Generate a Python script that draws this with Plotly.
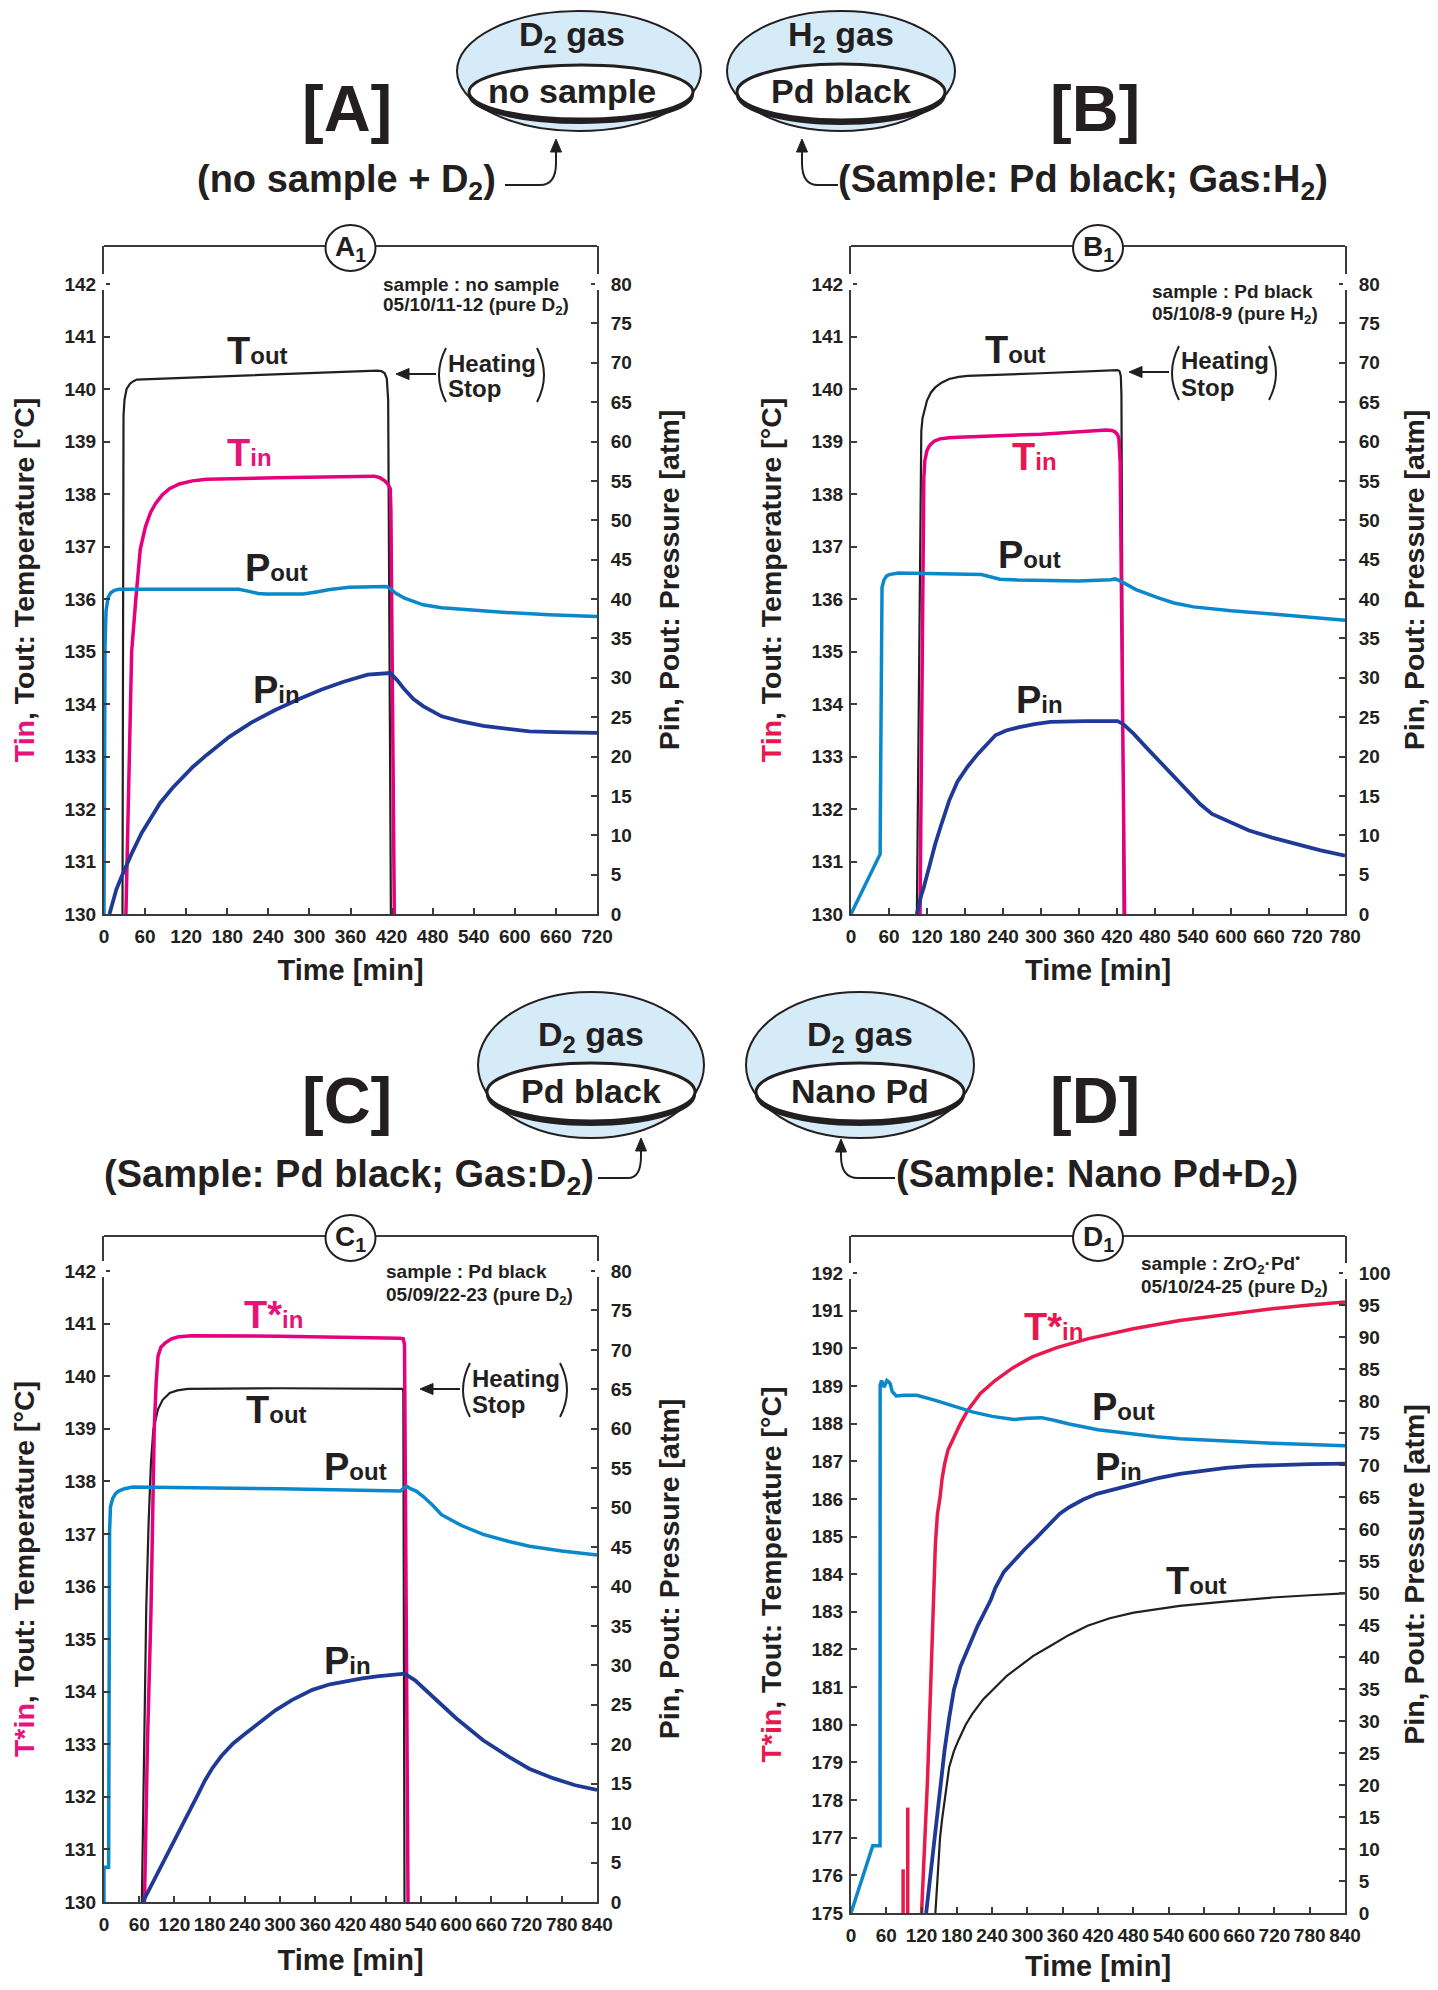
import plotly.graph_objects as go

# page body has an 8px margin, so the figure is drawn 8px in from each edge
PAGE_W, PAGE_H = 1438, 1990
OFF = 8
W, H = PAGE_W - 2 * OFF, PAGE_H - 2 * OFF
FONT = "Liberation Sans, Arial, Helvetica, sans-serif"
INK = "#231f20"
AXC = "#3a3a3a"
MAG = "#e6007e"
CRIM = "#e8194b"
LBLUE = "#0a88cc"
DBLUE = "#1f3a96"
LBL_MAG = "#e5137a"
LBL_RED = "#e8184f"
BUBBLE = "#d5ebf8"

# ---------------- DATA ----------------
# Panel A (no sample + D2), time in min
A_tout_t = [27, 27.5, 28.5, 30, 33, 38, 43, 48, 150, 300, 399, 405, 410, 413, 415, 419]
A_tout_v = [130, 137.5, 139.5, 139.8, 140.0, 140.1, 140.15, 140.18, 140.23, 140.3, 140.35, 140.34, 140.3, 140.2, 139.8, 130]
A_tin_t = [32, 36, 40.4, 46.5, 53, 60.6, 68, 75.4, 85, 95.6, 110, 129, 150, 250, 385, 395, 403, 410, 415, 418, 419, 424]
A_tin_v = [130, 132.8, 135, 136, 136.95, 137.38, 137.65, 137.82, 137.98, 138.1, 138.19, 138.25, 138.28, 138.31, 138.34, 138.34, 138.31, 138.25, 138.18, 138.1, 137.7, 130]
A_pout_t = [0, 0.5, 1.5, 3, 6, 10, 15, 22, 100, 197, 210, 225, 237, 291, 310, 330, 358, 390, 412, 418, 425, 439, 466, 493, 520, 587, 650, 720]
A_pout_v = [0, 20, 34, 38.5, 40.2, 40.8, 41.1, 41.24, 41.24, 41.24, 41.0, 40.7, 40.65, 40.65, 40.9, 41.2, 41.49, 41.55, 41.58, 41.3, 40.8, 40.1, 39.26, 38.9, 38.71, 38.29, 38.0, 37.78]
A_pin_t = [8, 12, 18, 25, 31.7, 40, 55, 70, 82, 100, 116, 130, 150, 170, 183, 215, 250, 285, 318, 350, 385, 418, 428, 439, 452, 466, 480, 493, 520, 554, 590, 621, 660, 720]
A_pin_v = [0, 1.3, 3.1, 4.6, 6.0, 7.6, 10.3, 12.3, 14.1, 16.0, 17.5, 18.7, 20.2, 21.6, 22.5, 24.3, 25.9, 27.3, 28.5, 29.5, 30.4, 30.6, 29.7, 28.5, 27.3, 26.4, 25.7, 25.1, 24.5, 23.9, 23.5, 23.2, 23.1, 23.0]

# Panel B (Pd black + H2)
B_tout_t = [104, 108, 111, 113, 116, 120, 126, 133, 143, 155, 170, 184, 300, 421, 424, 426, 427, 430.5]
B_tout_v = [130, 136, 139.2, 139.45, 139.62, 139.78, 139.93, 140.03, 140.12, 140.19, 140.23, 140.25, 140.3, 140.36, 140.34, 140.25, 139.9, 130]
B_tin_t = [109, 113, 115, 116.5, 118, 120, 123, 126, 132, 140.6, 155, 170, 300, 403, 412, 417, 421, 423, 425, 432]
B_tin_v = [130, 136, 138.3, 138.63, 138.75, 138.83, 138.9, 138.95, 139.01, 139.05, 139.07, 139.08, 139.14, 139.22, 139.21, 139.18, 139.13, 139.05, 138.6, 130]
B_pout_t = [0, 46, 47, 47.8, 49, 52, 56, 60.4, 75, 206, 220, 235, 264, 359, 410, 417, 425, 432, 450, 483, 510, 541, 600, 665, 780]
B_pout_v = [0, 7.6, 20, 35, 41.5, 42.4, 42.9, 43.1, 43.3, 43.1, 42.8, 42.5, 42.4, 42.3, 42.45, 42.55, 42.3, 42.0, 41.2, 40.2, 39.5, 39.0, 38.5, 38.1, 37.3]
B_pin_t = [104, 107, 111, 115, 120, 126, 133, 142, 155, 168, 184, 200, 215, 228, 245, 264, 290, 315, 370, 421, 430, 446, 468, 490, 512, 534, 552, 570, 600, 628.5, 665, 701, 740, 780]
B_pin_v = [0, 1.2, 2.4, 3.4, 5.0, 7.0, 8.9, 11.2, 14.4, 16.8, 18.7, 20.3, 21.6, 22.7, 23.3, 23.7, 24.1, 24.4, 24.5, 24.5, 24.1, 22.9, 21.0, 19.1, 17.2, 15.3, 13.9, 12.7, 11.6, 10.6, 9.7, 8.9, 8.1, 7.4]

# Panel C (Pd black + D2)
C_tin_t = [69, 74, 80, 85.6, 89, 92, 97, 104, 115, 127, 150, 174, 300, 504, 510, 512, 518]
C_tin_v = [130, 133, 135.5, 139, 139.9, 140.38, 140.55, 140.63, 140.71, 140.75, 140.77, 140.77, 140.76, 140.72, 140.71, 140.6, 130]
C_tout_t = [64.5, 68, 72, 76, 80, 84, 88, 92, 100, 112, 125, 143, 300, 504, 509, 510, 512]
C_tout_v = [130, 132.5, 135.6, 137.2, 138.35, 138.98, 139.2, 139.37, 139.55, 139.68, 139.73, 139.76, 139.77, 139.77, 139.76, 139.7, 130]
C_pout_t = [0, 0.01, 7.9, 8, 8.6, 9.5, 11, 15, 20, 25, 35, 49, 300, 497, 505, 511, 516, 522, 532, 544, 560, 575, 610, 646, 690, 725, 780, 840]
C_pout_v = [0, 4.4, 4.4, 20, 40, 47, 50.1, 51.2, 51.8, 52.1, 52.4, 52.6, 52.4, 52.1, 52.1, 52.5, 52.7, 52.4, 52.1, 51.4, 50.3, 49.1, 47.7, 46.6, 45.7, 45.1, 44.5, 44.0]
C_pin_t = [66, 80, 100, 119.4, 140, 160, 172, 184, 200, 220, 240, 265, 292, 320, 355, 385, 418, 440, 465, 490, 512, 530, 567, 600, 646, 690, 724.5, 765, 803, 840]
C_pin_v = [0, 2.0, 4.9, 7.6, 10.6, 13.6, 15.4, 16.9, 18.5, 20.1, 21.3, 22.7, 24.3, 25.6, 26.9, 27.6, 28.1, 28.35, 28.6, 28.8, 28.95, 28.1, 25.6, 23.3, 20.5, 18.4, 16.9, 15.7, 14.8, 14.2]

# Panel D (Nano Pd + D2)
D_tin_t = [120, 125, 130, 135, 139.6, 143.5, 147, 151.4, 155, 159.2, 165, 175, 186, 198.4, 220, 245.5, 275, 308.2, 350, 402.3, 480, 559, 640, 716, 780, 840]
D_tin_v = [175, 176.6, 178.5, 180.8, 183.29, 184.8, 185.6, 186.04, 186.55, 186.93, 187.3, 187.64, 188.0, 188.35, 188.8, 189.15, 189.48, 189.77, 190.02, 190.25, 190.52, 190.74, 190.9, 191.05, 191.15, 191.23]
D_spike_t = [88.6, 96.5]
D_spike_v = [176.16, 177.8]
D_tout_t = [143.5, 147, 151.4, 155, 159.2, 163, 167, 175, 182.7, 195, 206.3, 225, 245.5, 265, 284.7, 310, 339.6, 370, 402.3, 440, 480.8, 520, 559, 640, 716, 780, 840]
D_tout_v = [175, 176.0, 177.0, 177.5, 178.0, 178.5, 178.88, 179.3, 179.59, 180.0, 180.29, 180.68, 181.0, 181.3, 181.53, 181.83, 182.1, 182.38, 182.63, 182.83, 182.98, 183.08, 183.16, 183.28, 183.38, 183.44, 183.49]
D_pin_t = [127.8, 132, 136, 143.5, 151, 159.2, 167, 175, 186, 198.4, 215, 237.6, 245.5, 260, 276.9, 295, 316, 330, 339.6, 355, 371, 395, 418, 450, 480.8, 520, 559, 600, 637.6, 680, 716, 780, 840]
D_pin_v = [0, 3.5, 7, 12.5, 19.5, 25.5, 30.5, 34.9, 38.5, 41.2, 44.8, 48.9, 50.8, 53.3, 55.06, 56.8, 58.7, 60.0, 60.8, 62.4, 63.4, 64.6, 65.5, 66.3, 67.05, 67.9, 68.6, 69.1, 69.55, 69.85, 70.0, 70.15, 70.2]
D_pout_t = [0, 36, 37, 49.4, 49.6, 52, 55.7, 58, 61, 64, 66.7, 70, 76.9, 90, 112, 143.5, 175, 206.3, 240, 276.9, 300, 324, 345, 371, 420, 480.8, 520, 559, 640, 716, 780, 840]
D_pout_v = [0, 10.5, 10.5, 10.5, 82.5, 83.2, 82.2, 82.5, 83.2, 83.0, 82.7, 81.5, 80.8, 80.9, 80.9, 80.1, 79.2, 78.3, 77.6, 77.1, 77.3, 77.4, 77.0, 76.4, 75.5, 74.8, 74.4, 74.1, 73.7, 73.4, 73.2, 73.0]

# Axis tick values
TEMP_TICKS_ABC = list(range(130, 143))
TEMP_TICKS_D = list(range(175, 193))
PRES_TICKS_ABC = list(range(0, 81, 5))
PRES_TICKS_D = list(range(0, 101, 5))


def PX(x):
    return (x - OFF) / W


def PY(y):
    return 1 - (y - OFF) / H


panels = [
    dict(x0=104, x1=597, yf=246, yt=284, yb=914, tmin=130, tmax=142, pmax=80, xmax=720,
         tt=TEMP_TICKS_ABC, pt=PRES_TICKS_ABC, lab="A", tin_name="Tin", tin_col=LBL_MAG, rst=28, xst=14,
         series=[(A_tout_t, A_tout_v, 'T', INK, 2.2), (A_tin_t, A_tin_v, 'T', MAG, 3.5),
                 (A_pout_t, A_pout_v, 'P', LBLUE, 3.5), (A_pin_t, A_pin_v, 'P', DBLUE, 3.8)]),
    dict(x0=851, x1=1345, yf=246, yt=284, yb=914, tmin=130, tmax=142, pmax=80, xmax=780,
         tt=TEMP_TICKS_ABC, pt=PRES_TICKS_ABC, lab="B", tin_name="Tin", tin_col=LBL_RED, rst=30, xst=14,
         series=[(B_tout_t, B_tout_v, 'T', INK, 2.2), (B_tin_t, B_tin_v, 'T', MAG, 3.5),
                 (B_pout_t, B_pout_v, 'P', LBLUE, 3.5), (B_pin_t, B_pin_v, 'P', DBLUE, 3.8)]),
    dict(x0=104, x1=597, yf=1236, yt=1271, yb=1902, tmin=130, tmax=142, pmax=80, xmax=840,
         tt=TEMP_TICKS_ABC, pt=PRES_TICKS_ABC, lab="C", tin_name="T*in", tin_col=LBL_MAG, rst=28, xst=16,
         series=[(C_tout_t, C_tout_v, 'T', INK, 2.2), (C_tin_t, C_tin_v, 'T', MAG, 3.5),
                 (C_pout_t, C_pout_v, 'P', LBLUE, 3.5), (C_pin_t, C_pin_v, 'P', DBLUE, 3.8)]),
    dict(x0=851, x1=1345, yf=1236, yt=1273, yb=1913, tmin=175, tmax=192, pmax=100, xmax=840,
         tt=TEMP_TICKS_D, pt=PRES_TICKS_D, lab="D", tin_name="T*in", tin_col=LBL_RED, rst=21, xst=21,
         series=[(D_tout_t, D_tout_v, 'T', INK, 2.2), (D_tin_t, D_tin_v, 'T', CRIM, 3.5),
                 (D_pout_t, D_pout_v, 'P', LBLUE, 3.5), (D_pin_t, D_pin_v, 'P', DBLUE, 3.8)]),
]

fig = go.Figure()
shapes = []
annots = []

tickfont = dict(family=FONT, size=19, color=INK, weight="bold")
TITLE_SZ = 28.5

for i, p in enumerate(panels):
    xid = 'x' if i == 0 else f'x{i + 1}'
    xl = 'xaxis' if i == 0 else f'xaxis{i + 1}'
    ylid = 'y' if i == 0 else f'y{2 * i + 1}'
    yllay = 'yaxis' if i == 0 else f'yaxis{2 * i + 1}'
    yrid = f'y{2 * i + 2}'
    yrlay = f'yaxis{2 * i + 2}'

    pxper = (p['yb'] - p['yt'])
    ttop = p['tmax'] + (p['yt'] - p['yf']) * (p['tmax'] - p['tmin']) / pxper
    ptop = p['pmax'] + (p['yt'] - p['yf']) * p['pmax'] / pxper
    dom_x = [PX(p['x0']), PX(p['x1'])]
    dom_y = [PY(p['yb']), PY(p['yf'])]

    fig.layout[xl] = dict(domain=dom_x, range=[0, p['xmax']], anchor=ylid, automargin=False,
                          tickvals=list(range(0, p['xmax'] + 1, 60)),
                          ticks='inside', ticklen=6, tickwidth=1.5, tickcolor=AXC,
                          showline=True, linecolor=AXC, linewidth=2, showgrid=False,
                          zeroline=False, tickfont=tickfont, ticklabelstandoff=4,
                          title=dict(text='Time [min]', standoff=p['xst'],
                                     font=dict(family=FONT, size=29, color=INK, weight="bold")))
    tin_html = f"<span style='color:{p['tin_col']}'>{p['tin_name']}</span>, Tout: Temperature [°C]"
    fig.layout[yllay] = dict(domain=dom_y, range=[p['tmin'], ttop], anchor=xid, side='left',
                             automargin=False,
                             tickvals=p['tt'], ticks='inside', ticklen=6, tickwidth=1.5,
                             tickcolor=AXC, showline=True, linecolor=AXC, linewidth=2,
                             showgrid=False, zeroline=False, tickfont=tickfont,
                             ticklabelstandoff=2,
                             title=dict(text=tin_html, standoff=22,
                                        font=dict(family=FONT, size=TITLE_SZ, color=INK, weight="bold")))
    fig.layout[yrlay] = dict(domain=dom_y, range=[0, ptop], anchor=xid, overlaying=ylid,
                             automargin=False,
                             side='right', tickvals=p['pt'], ticks='inside', ticklen=6,
                             tickwidth=1.5, tickcolor=AXC, showline=True, linecolor=AXC,
                             linewidth=2, showgrid=False, zeroline=False, tickfont=tickfont,
                             ticklabelstandoff=8,
                             title=dict(text='Pin, Pout: Pressure [atm]', standoff=p['rst'],
                                        font=dict(family=FONT, size=TITLE_SZ, color=INK, weight="bold")))

    for (t, v, kind, col, lw) in p['series']:
        fig.add_trace(go.Scatter(x=t, y=v, mode='lines', xaxis=xid,
                                 yaxis=(ylid if kind == 'T' else yrid),
                                 line=dict(color=col, width=lw), hoverinfo='skip'))

    # top frame line
    shapes.append(dict(type='line', xref='paper', yref='paper',
                       x0=PX(p['x0']), x1=PX(p['x1']), y0=PY(p['yf']), y1=PY(p['yf']),
                       line=dict(color=AXC, width=2), layer='above'))
    # small breaks in the side lines next to the top tick
    for xx in (p['x0'], p['x1']):
        shapes.append(dict(type='line', xref='paper', yref='paper',
                           x0=PX(xx), x1=PX(xx), y0=PY(p['yt'] - 10), y1=PY(p['yt'] + 6),
                           line=dict(color='white', width=4), layer='above'))
    # circled panel label
    cx = (p['x0'] + p['x1']) / 2
    cy = p['yf'] + 2
    shapes.append(dict(type='circle', xref='paper', yref='paper',
                       x0=PX(cx - 25), x1=PX(cx + 25), y0=PY(cy + 23), y1=PY(cy - 23),
                       line=dict(color=INK, width=2), fillcolor='white', layer='above'))
    annots.append(dict(xref='paper', yref='paper', x=PX(cx), y=PY(cy), showarrow=False,
                       text=f"{p['lab']}<sub>1</sub>", xanchor='center', yanchor='middle',
                       font=dict(family=FONT, size=28, color=INK, weight="bold")))

# red spikes in panel D
for st, sv in zip(D_spike_t, D_spike_v):
    fig.add_trace(go.Scatter(x=[st, st], y=[175, sv], mode='lines', xaxis='x4', yaxis='y7',
                             line=dict(color=CRIM, width=3.5), hoverinfo='skip'))


def txt(x, y, text, size, color=INK, anchor='center'):
    annots.append(dict(xref='paper', yref='paper', x=PX(x), y=PY(y), text=text,
                       showarrow=False, xanchor=anchor, yanchor='middle',
                       font=dict(family=FONT, size=size, color=color, weight="bold")))


def big(x, y, main, sub, color=INK):
    txt(x, y, f"{main}<span style='font-size:24px'>{sub}</span>", 38, color)


def head(tip_x, tip_y, direction):
    # filled arrow head; direction 'up' or 'left'
    if direction == 'up':
        pts = [(tip_x, tip_y), (tip_x - 5.5, tip_y + 13), (tip_x + 5.5, tip_y + 13)]
    else:
        pts = [(tip_x, tip_y), (tip_x + 13, tip_y - 5.5), (tip_x + 13, tip_y + 5.5)]
    path = "M " + " L ".join(f"{PX(a)},{PY(b)}" for a, b in pts) + " Z"
    shapes.append(dict(type='path', xref='paper', yref='paper', path=path,
                       line=dict(color=INK, width=1), fillcolor=INK, layer='above'))


# ---- headers ----
txt(347, 108, "[A]", 65)
txt(1095, 108, "[B]", 65)
txt(347, 1100, "[C]", 65)
txt(1095, 1100, "[D]", 65)
txt(346, 182, "(no sample + D<sub>2</sub>)", 38)
txt(1083, 182, "(Sample: Pd black; Gas:H<sub>2</sub>)", 38)
txt(349, 1177, "(Sample: Pd black; Gas:D<sub>2</sub>)", 38)
txt(1097, 1177, "(Sample: Nano Pd+D<sub>2</sub>)", 38)


def bubble(cx, cy, rx, ry, icx, icy, irx, iry, top, top_y, inner, tx):
    shapes.append(dict(type='circle', xref='paper', yref='paper',
                       x0=PX(cx - rx), x1=PX(cx + rx), y0=PY(cy + ry), y1=PY(cy - ry),
                       line=dict(color=INK, width=2), fillcolor=BUBBLE, layer='above'))
    shapes.append(dict(type='circle', xref='paper', yref='paper',
                       x0=PX(icx - irx), x1=PX(icx + irx), y0=PY(icy + iry + 4), y1=PY(icy - iry + 1),
                       line=dict(color=INK, width=2), fillcolor=INK, layer='above'))
    shapes.append(dict(type='circle', xref='paper', yref='paper',
                       x0=PX(icx - irx), x1=PX(icx + irx), y0=PY(icy + iry), y1=PY(icy - iry),
                       line=dict(color=INK, width=3), fillcolor='white', layer='above'))
    txt(tx, top_y, top, 34)
    txt(tx, icy - 1, inner, 34)


bubble(579, 71, 122, 60, 581, 92, 112, 27, "D<sub>2</sub> gas", 36, "no sample", 572)
bubble(841, 71, 114, 60, 841, 92, 104, 28, "H<sub>2</sub> gas", 36, "Pd black", 841)
bubble(591, 1065, 113, 73, 591, 1092, 104, 29, "D<sub>2</sub> gas", 1036, "Pd black", 591)
bubble(860, 1065, 114, 73, 860, 1092, 104, 29, "D<sub>2</sub> gas", 1036, "Nano Pd", 860)


def hook(x_start, y, x_turn, x_tip, y_tip):
    # horizontal line then curve up to the tip
    mid_y = y - 22
    path = (f"M {PX(x_start)},{PY(y)} L {PX(x_turn)},{PY(y)} "
            f"Q {PX(x_tip)},{PY(y)} {PX(x_tip)},{PY(mid_y)} L {PX(x_tip)},{PY(y_tip + 10)}")
    shapes.append(dict(type='path', xref='paper', yref='paper', path=path,
                       line=dict(color=INK, width=2), layer='above'))
    head(x_tip, y_tip, 'up')


hook(505, 185, 540, 556, 139)
hook(838, 185, 818, 802, 139)
hook(598, 1178, 628, 641, 1138)
hook(895, 1178, 858, 841, 1139)

# ---- in-plot labels ----
# panel A
txt(381, 285, "sample : no sample", 19, anchor='left')
txt(381, 306, "05/10/11-12 (pure D<sub>2</sub>)", 19, anchor='left')
big(257, 351, "T", "out")
big(249, 453, "T", "in", LBL_MAG)
big(276, 568, "P", "out")
big(276, 690, "P", "in")
# panel B
txt(1150, 291, "sample : Pd black", 19, anchor='left')
txt(1150, 315, "05/10/8-9 (pure H<sub>2</sub>)", 19, anchor='left')
big(1015, 350, "T", "out")
big(1034, 457, "T", "in", LBL_RED)
big(1029, 555, "P", "out")
big(1039, 700, "P", "in")
# panel C
txt(384, 1271, "sample : Pd black", 19, anchor='left')
txt(384, 1296, "05/09/22-23 (pure D<sub>2</sub>)", 19, anchor='left')
big(273, 1315, "T*", "in", LBL_MAG)
big(276, 1410, "T", "out")
big(355, 1467, "P", "out")
big(347, 1661, "P", "in")
# panel D
txt(1139, 1263, "sample : ZrO<sub>2</sub>·Pd<sup>•</sup>", 19, anchor='left')
txt(1139, 1288, "05/10/24-25 (pure D<sub>2</sub>)", 19, anchor='left')
big(1053, 1327, "T*", "in", LBL_RED)
big(1123, 1407, "P", "out")
big(1118, 1467, "P", "in")
big(1196, 1581, "T", "out")


def heating(lx, y, rx):
    # lx: left paren x, rx: right paren x, y: vertical centre
    shapes.append(dict(type='path', xref='paper', yref='paper',
                       path=f"M {PX(lx + 6)},{PY(y - 27)} Q {PX(lx - 8)},{PY(y)} {PX(lx + 6)},{PY(y + 27)}",
                       line=dict(color=INK, width=2), layer='above'))
    shapes.append(dict(type='path', xref='paper', yref='paper',
                       path=f"M {PX(rx - 6)},{PY(y - 27)} Q {PX(rx + 8)},{PY(y)} {PX(rx - 6)},{PY(y + 27)}",
                       line=dict(color=INK, width=2), layer='above'))
    txt(lx + 6, y - 12, "Heating", 24, anchor='left')
    txt(lx + 6, y + 14, "Stop", 24, anchor='left')
    shapes.append(dict(type='line', xref='paper', yref='paper',
                       x0=PX(lx - 4), x1=PX(lx - 36), y0=PY(y - 1), y1=PY(y - 1),
                       line=dict(color=INK, width=2), layer='above'))
    head(lx - 44, y - 1, 'left')


heating(440, 375, 543)
heating(1173, 373, 1275)
heating(464, 1390, 566)

fig.update_layout(width=W, height=H, margin=dict(l=0, r=0, t=0, b=0),
                  paper_bgcolor='white', plot_bgcolor='white', showlegend=False,
                  shapes=shapes, annotations=annots,
                  font=dict(family=FONT, color=INK))

fig.write_html("out.html")
